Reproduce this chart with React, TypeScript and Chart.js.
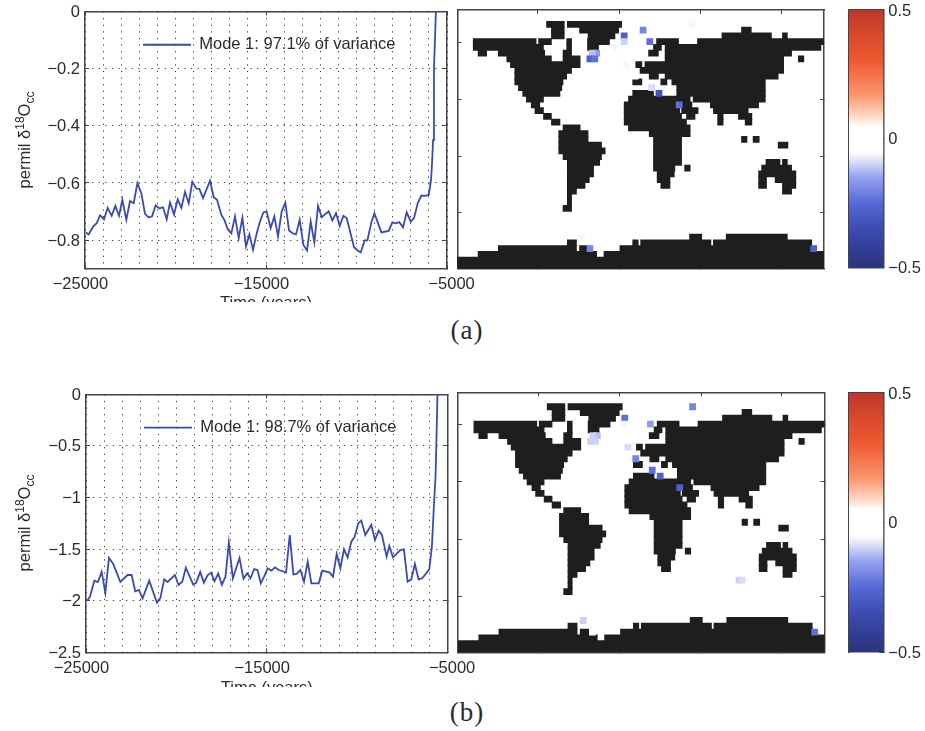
import React, { useEffect, useRef } from "react";
import { Chart, registerables } from "chart.js";

Chart.register(...registerables);

const timeA = [-24944,-24797,-24539,-24355,-24171,-23950,-23747,-23526,-23323,-23121,-22937,-22716,-22513,-22310,-22108,-21887,-21684,-21500,-21297,-21095,-20892,-20689,-20487,-20303,-20082,-19879,-19676,-19474,-19271,-19068,-18847,-18682,-18479,-18092,-17890,-17705,-17466,-17300,-17116,-16913,-16711,-16508,-16305,-16103,-15919,-15716,-15513,-15329,-15147,-14963,-14742,-14539,-14336,-14134,-13931,-13728,-13526,-13342,-13139,-12936,-12734,-12531,-12329,-12126,-11923,-11536,-11334,-11131,-10929,-10726,-10542,-10136,-9934,-9768,-9547,-9400,-9179,-9013,-8626,-8221,-8018,-7816,-7631,-7429,-7226,-7005,-6821,-6618,-6416,-6213,-6010,-5881,-5826,-5770,-5720,-5607];
const valueA = [-0.773,-0.78,-0.752,-0.741,-0.713,-0.727,-0.687,-0.715,-0.68,-0.715,-0.659,-0.729,-0.663,-0.671,-0.601,-0.636,-0.708,-0.72,-0.717,-0.678,-0.689,-0.685,-0.727,-0.668,-0.71,-0.657,-0.687,-0.631,-0.671,-0.596,-0.62,-0.621,-0.653,-0.592,-0.65,-0.659,-0.712,-0.729,-0.762,-0.776,-0.717,-0.793,-0.722,-0.822,-0.78,-0.834,-0.776,-0.735,-0.703,-0.7,-0.758,-0.717,-0.787,-0.7,-0.669,-0.766,-0.776,-0.78,-0.729,-0.817,-0.836,-0.735,-0.808,-0.68,-0.72,-0.699,-0.731,-0.706,-0.75,-0.715,-0.723,-0.825,-0.836,-0.843,-0.801,-0.801,-0.738,-0.706,-0.773,-0.768,-0.738,-0.741,-0.737,-0.755,-0.703,-0.735,-0.723,-0.671,-0.644,-0.645,-0.642,-0.589,-0.531,-0.45,-0.2,0.01];
const timeB = [-24908,-24779,-24539,-24337,-24134,-23931,-23729,-23508,-23323,-23102,-22697,-22476,-22274,-22071,-21868,-21500,-21076,-20892,-20671,-20487,-20082,-19879,-19676,-19474,-19068,-18903,-18682,-18479,-18276,-18074,-17890,-17687,-17484,-17282,-17098,-16876,-16508,-16287,-16084,-15900,-15698,-15513,-15329,-15147,-14944,-14742,-14539,-14336,-13931,-13728,-13526,-13342,-13139,-12936,-12734,-12531,-12126,-11923,-11536,-11334,-11131,-10929,-10726,-10523,-10321,-10136,-9934,-9768,-9547,-9215,-9013,-8810,-8626,-8368,-8221,-8018,-7613,-7410,-7208,-7005,-6803,-6600,-6397,-6010,-5863,-5790,-5735,-5662,-5620,-5552];
const valueB = [-1.993,-1.961,-1.806,-1.819,-1.719,-1.922,-1.586,-1.638,-1.719,-1.819,-1.751,-1.751,-1.909,-1.896,-1.977,-1.806,-2.019,-1.977,-1.793,-1.819,-1.751,-1.848,-1.816,-1.68,-1.845,-1.825,-1.722,-1.825,-1.754,-1.728,-1.812,-1.735,-1.845,-1.767,-1.438,-1.783,-1.586,-1.786,-1.735,-1.783,-1.693,-1.703,-1.832,-1.767,-1.686,-1.709,-1.677,-1.703,-1.725,-1.363,-1.745,-1.741,-1.703,-1.816,-1.622,-1.832,-1.832,-1.709,-1.725,-1.767,-1.547,-1.686,-1.502,-1.58,-1.428,-1.38,-1.25,-1.224,-1.363,-1.266,-1.412,-1.321,-1.363,-1.573,-1.47,-1.58,-1.509,-1.502,-1.816,-1.793,-1.644,-1.793,-1.783,-1.696,-1.476,-1.218,-1.024,-0.8,-0.5,0.02];

const labelA = "Mode 1: 97.1% of variance";
const labelB = "Mode 1: 98.7% of variance";
const xGridTicks = [-25000,-24000,-23000,-22000,-21000,-20000,-19000,-18000,-17000,-16000,-15000,-14000,-13000,-12000,-11000,-10000,-9000,-8000,-7000,-6000,-5000];
const xLabelled = [-25000,-15000,-5000];
const xLabelText = ["\u221225000  ","\u221215000  ","  \u22125000"];
const yTicksA = [0,-0.2,-0.4,-0.6,-0.8];
const yTicksB = [0,-0.5,-1,-1.5,-2,-2.5];
const barTicks = [0.5,0,-0.5];

// Land mask: for each grid row (top to bottom), pairs of start/end columns.
const landRows: number[][] = [
  [],[],
  [14.6,17.5,18,26.9],
  [15.4,17.5,20,26.4,46.5,48.1],
  [15.4,17.5,21.4,25.8,43.3,51.4,53.2,54],
  [2.6,12.9,13.3,15.4,17.9,18.7,21.3,24.9,32.6,36.2,39.3,60],
  [2.6,14.1,17.9,18.7,21.3,23.1,32.1,33.4,34,59.5],
  [3.4,4.8,6.7,14.3,17.3,18.7,31.3,32.9,34,54.7],
  [8.1,15.4,17.3,20.1,34,53.4,55.8,56.7],
  [8.7,20.1,29.2,30.2,30.7,53.4],
  [9.4,18.7,29.9,53.4],
  [9.4,17.9,31.4,32.9,34,52.5],
  [9.4,17.3,28.7,30.2,33.3,34.3,35.1,50.4],
  [10,17.1,35.9,50.4],
  [10.7,16.8,28.7,32.1,35.9,50.4],
  [11.3,14.1,28,38.1,38.6,50.4],
  [12.1,13.5,27.3,36.2,36.4,38.4,41.4,49.3],
  [12.7,14.1,27.3,36.4,36.7,39.4,41.9,47.6],
  [14.1,15.4,27.3,36.7,37.5,38.9,42.6,43.5,46,48.2],
  [15.4,16.8,27.3,37.5,42.6,43.5,47.1,48.2],
  [17.3,20.1,28,38.1],
  [16.6,21.4,31.4,38.1],
  [16.6,21.4,32.1,36.7,46.5,47.4,48.4,49.4],
  [16.6,23.6,32.1,36.7,52.5,54.1],
  [16.6,24.2,32.1,36.7],
  [17.3,23.6,32.1,36.7],
  [18,23.3,32.1,36.7,50.5,52.8,53.2,54],
  [18,22.3,32.1,35.6,37.2,38.1,49.8,54.7],
  [18,22.3,32.7,35.5,49.3,55.4],
  [18,21.6,32.7,34.8,49.3,50.6,52,55.4],
  [18,20.9,33.3,34.8,49.3,50.6,53.2,55.4],
  [18,19.5,53.2,54.7],
  [18,18.7],
  [18,18.7],
  [17.3,18.7],
  [],[],[],[],
  [38,40,44,54],
  [18,19.5,28.7,29.6,30,41.5,41.9,58],
  [6.7,19.5,20,21.4,26.6,58],
  [3.4,22.8,24,60],
  [0,60],
  [0,60],
];

// Anomaly cells: start column, row, value.
const anomalyA = [[26.8,4,-0.28],[26.8,5,-0.1],[29.9,3,-0.2],[31,5,-0.24],[37.9,2,-0.06],[22.3,7,-0.16],[21.6,7,-0.12],[21.2,8,-0.28],[22,8,-0.24],[25.2,6,-0.06],[27.2,9,-0.06],[28.6,11,-0.05],[31.3,13,-0.09],[32.5,14,-0.32],[35.8,16,-0.24],[19.8,39,-0.06],[21.2,41,-0.2],[57.8,41,-0.28]];
const anomalyB = [[26.8,4,-0.24],[26.8,5,-0.06],[31,5,-0.16],[37.9,2,-0.2],[30,3,-0.04],[22.3,7,-0.12],[21.6,7,-0.1],[21.2,8,-0.1],[22,8,-0.1],[25.2,6,-0.05],[27.3,9,-0.09],[28.6,11,-0.2],[31.3,13,-0.24],[32.6,14,-0.28],[35.8,16,-0.28],[45.5,32,-0.1],[46,32,-0.09],[48.3,32,-0.03],[20,39,-0.1],[21.5,41,-0.05],[57.9,41,-0.24]];

const mapXTicks = [13.2,26.5,39.8,53];
const mapYTicks = [5.6,15.5,25.4,35.3];

const cmapValues = [-0.5,-0.35,-0.25,-0.15,-0.08,-0.05,0.05,0.07,0.17,0.3,0.42,0.5];
const cmapColors = [[42,52,128],[60,75,175],[85,105,215],[150,160,240],[225,230,250],[255,255,255],[255,255,255],[255,232,218],[250,150,110],[240,90,50],[212,70,44],[190,55,40]];

const lineColor = "#3a4ab5";
const axisColor = "#444444";
const textColor = "#2b2b2b";
const gridColor = "#333333";
const landColor = "#1e1e1e";
const font = { family: "'Liberation Sans', Arial, sans-serif", size: 16.5 };
const minus = (s: string) => s.replace("-", "\u2212");

function cmap(v: number) {
  let i = 0;
  while (i < cmapValues.length - 2 && v > cmapValues[i + 1]) i++;
  const t = Math.max(0, Math.min(1, (v - cmapValues[i]) / (cmapValues[i + 1] - cmapValues[i])));
  const c = cmapColors[i].map((a, k) => Math.round(a + (cmapColors[i + 1][k] - a) * t));
  return `rgb(${c[0]},${c[1]},${c[2]})`;
}

const fixSize = (size: number, horizontal: boolean) => (s: any) => {
  if (horizontal) s.height = size; else s.width = size;
  s.paddingLeft = s.paddingRight = s.paddingTop = s.paddingBottom = 0;
};
const setTicks = (vals: number[]) => (s: any) => { s.ticks = vals.map((value) => ({ value })); };

function edgeAxis(position: string, min: number, max: number, vals: number[], reverse = false): any {
  const horizontal = position === "top" || position === "bottom";
  return {
    type: "linear", position, min, max, reverse, offset: false,
    afterBuildTicks: setTicks(vals),
    afterFit: fixSize(0, horizontal),
    ticks: { display: false, autoSkip: false },
    grid: { drawOnChartArea: false, offset: false, tickLength: -4, tickColor: axisColor, tickWidth: 1 },
    border: { display: true, color: axisColor, width: 1.5 },
  };
}

// Places the legend near the top of the plot, as in the reference.
const legendNudge = {
  id: "legendNudge",
  beforeDraw(chart: any) {
    const l = chart.legend;
    if (!l) return;
    l.top = chart.chartArea.top;
    l.left = chart.chartArea.left + 33;
  },
};

function lineConfig(p: any): any {
  const w = p.width, h = p.height;
  return {
    type: "line",
    plugins: [legendNudge],
    data: { datasets: [{
      label: p.label,
      data: p.time.map((x: number, i: number) => ({ x, y: p.value[i] })),
      borderColor: lineColor, backgroundColor: lineColor, borderWidth: 1.8, pointRadius: 0, tension: 0,
    }] },
    options: {
      animation: false, responsive: false, events: [],
      layout: { padding: { left: 0, top: p.top, right: w - p.right, bottom: 0 } },
      plugins: {
        tooltip: { enabled: false },
        legend: {
          position: "chartArea", align: "start",
          labels: { boxWidth: 48, boxHeight: 0, padding: 25, font, color: textColor },
        },
      },
      scales: {
        x: {
          type: "linear", min: -25000, max: -5000,
          afterBuildTicks: setTicks(xGridTicks),
          afterFit: fixSize(h - p.bottom, true),
          ticks: {
            autoSkip: false, maxRotation: 0, minRotation: 0, padding: 10, font, color: textColor,
            callback: (v: number) => { const i = xLabelled.indexOf(v); return i < 0 ? "" : xLabelText[i]; },
          },
          grid: {
            color: gridColor, lineWidth: 1, tickLength: -4, tickWidth: 1,
            tickColor: (c: any) => (c.tick && xLabelled.includes(c.tick.value) ? axisColor : "transparent"),
          },
          border: { display: true, color: axisColor, width: 1.5, dash: [1.2, 5.4] },
          title: { display: true, text: "Time (years)", font, color: textColor, padding: { top: 0, bottom: -11 } },
        },
        y: {
          type: "linear", min: p.ymin, max: 0,
          afterBuildTicks: setTicks(p.yTicks),
          afterFit: fixSize(p.left, false),
          ticks: { autoSkip: false, padding: 9, labelOffset: 1, font, color: textColor, callback: (v: number) => minus(String(v)) },
          grid: { color: gridColor, lineWidth: 1, tickLength: -4, tickWidth: 1, tickColor: axisColor },
          border: { display: true, color: axisColor, width: 1.5, dash: [1.2, 5.4] },
        },
        xTop: edgeAxis("top", -25000, -5000, xLabelled),
        yRight: edgeAxis("right", p.ymin, 0, p.yTicks),
      },
    },
  };
}

function mapConfig(p: any): any {
  const land: any[] = [];
  landRows.forEach((spans, r) => {
    for (let i = 0; i < spans.length; i += 2) land.push({ y: r + 0.5, x: [spans[i], spans[i + 1]] });
  });
  const cells = p.anomaly.map((a: number[]) => ({ y: a[1] + 0.5, x: [a[0], a[0] + 1] }));
  const colors = [...land.map(() => landColor), ...p.anomaly.map((a: number[]) => cmap(a[2]))];
  return {
    type: "bar",
    data: { datasets: [{
      label: "land", data: [...land, ...cells], backgroundColor: colors, borderWidth: 0, barThickness: 6.2,
    }] },
    options: {
      indexAxis: "y", animation: false, responsive: false, events: [],
      layout: { padding: { left: p.left, top: p.top, right: p.width - p.right, bottom: p.height - p.bottom } },
      plugins: { legend: { display: false }, tooltip: { enabled: false } },
      scales: {
        x: edgeAxis("bottom", 0, 60, mapXTicks),
        y: edgeAxis("left", 0, 45, mapYTicks, true),
        xTop: edgeAxis("top", 0, 60, mapXTicks),
        yRight: edgeAxis("right", 0, 45, mapYTicks, true),
      },
    },
  };
}

function barConfig(p: any): any {
  return {
    type: "bar",
    data: { labels: ["value"], datasets: [{
      label: "scale",
      data: [[-0.5, 0.5]],
      barPercentage: 1, categoryPercentage: 1, borderWidth: 0,
      backgroundColor: (c: any) => {
        const area = c.chart.chartArea;
        if (!area) return "#fff";
        const g = c.chart.ctx.createLinearGradient(0, area.bottom, 0, area.top);
        cmapValues.forEach((v) => g.addColorStop(v + 0.5, cmap(v)));
        return g;
      },
    }] },
    options: {
      animation: false, responsive: false, events: [],
      layout: { padding: { left: p.left, top: p.top, right: 0, bottom: p.height - p.bottom } },
      plugins: { legend: { display: false }, tooltip: { enabled: false } },
      scales: {
        x: {
          type: "category", position: "bottom", afterFit: fixSize(0, true),
          ticks: { display: false }, grid: { display: false },
          border: { display: true, color: axisColor, width: 1.5 },
        },
        xTop: edgeAxis("top", 0, 1, []),
        y: {
          type: "linear", position: "right", min: -0.5, max: 0.5,
          afterBuildTicks: setTicks(barTicks),
          afterFit: fixSize(p.width - p.right, false),
          ticks: { padding: 9, labelOffset: 1, font, color: textColor, autoSkip: false, callback: (v: number) => minus(String(v)) },
          grid: { drawOnChartArea: false, tickLength: -4, tickColor: axisColor, tickWidth: 1 },
          border: { display: true, color: axisColor, width: 1.5 },
        },
        yLeft: edgeAxis("left", -0.5, 0.5, [0]),
      },
    },
  };
}

const panels = [
  { x: 0, y: 0, w: 480, h: 302, cfg: () => lineConfig({ width: 480, height: 302, left: 85, right: 447, top: 11.5, bottom: 268.7, label: labelA, time: timeA, value: valueA, ymin: -0.9, yTicks: yTicksA }) },
  { x: 0, y: 382, w: 480, h: 305, cfg: () => lineConfig({ width: 480, height: 305, left: 86, right: 447.5, top: 12.3, bottom: 270.3, label: labelB, time: timeB, value: valueB, ymin: -2.5, yTicks: yTicksB }) },
  { x: 450, y: 0, w: 385, h: 280, cfg: () => mapConfig({ width: 385, height: 280, left: 7.3, right: 374, top: 10, bottom: 268.7, anomaly: anomalyA }) },
  { x: 450, y: 382, w: 385, h: 280, cfg: () => mapConfig({ width: 385, height: 280, left: 8, right: 374.5, top: 10.3, bottom: 270.3, anomaly: anomalyB }) },
  { x: 840, y: 0, w: 85, h: 285, cfg: () => barConfig({ width: 85, height: 285, left: 9, right: 43.3, top: 10, bottom: 267.7 }) },
  { x: 840, y: 382, w: 85, h: 285, cfg: () => barConfig({ width: 85, height: 285, left: 9, right: 43.3, top: 11, bottom: 270 }) },
];

const yTitle = (cy: number) => (
  <div style={{ position: "absolute", left: 24, top: cy, transform: "translate(-50%,-50%) rotate(-90deg)", whiteSpace: "nowrap", font: "16.5px 'Liberation Sans', sans-serif", color: textColor, lineHeight: "20px" }}>
    permil δ<sup style={{ fontSize: 12, lineHeight: 0 }}>18</sup>O<sub style={{ fontSize: 12, lineHeight: 0 }}>cc</sub>
  </div>
);
const caption = (t: string, cy: number) => (
  <div style={{ position: "absolute", left: 467, top: cy, transform: "translate(-50%,-50%)", font: "27px 'Liberation Serif', serif", letterSpacing: 1, color: textColor }}>{t}</div>
);

export default function App() {
  const refs = useRef<(HTMLCanvasElement | null)[]>([]);
  useEffect(() => {
    const charts = panels.map((p, i) => new Chart(refs.current[i] as HTMLCanvasElement, p.cfg()));
    return () => charts.forEach((c) => c.destroy());
  }, []);
  return (
    <div style={{ position: "absolute", left: 0, top: 0, width: 925, height: 731, overflow: "hidden", background: "#fff", filter: "blur(0.45px)" }}>
      {panels.map((p, i) => (
        <canvas key={i} ref={(el) => { refs.current[i] = el; }} width={p.w} height={p.h}
          style={{ position: "absolute", left: p.x, top: p.y, width: p.w, height: p.h }} />
      ))}
      {yTitle(140)}
      {yTitle(523)}
      {caption("(a)", 330)}
      {caption("(b)", 712)}
    </div>
  );
}
